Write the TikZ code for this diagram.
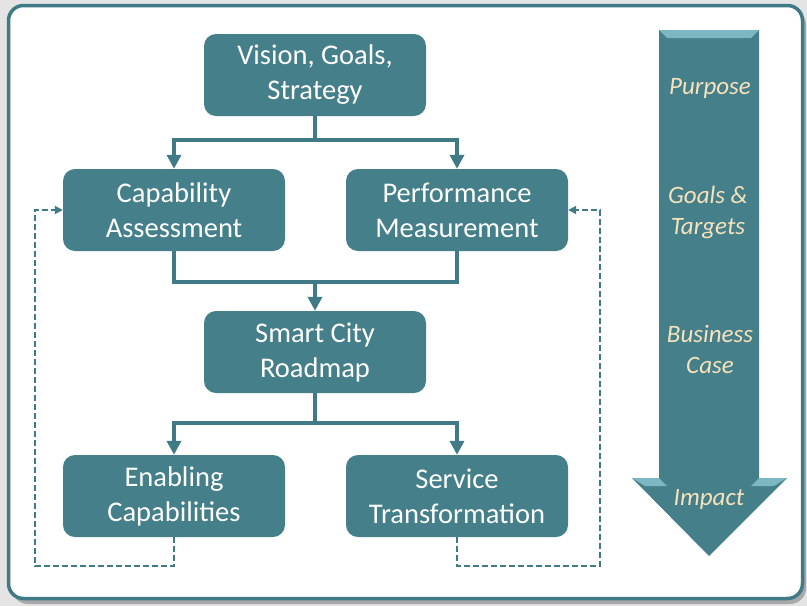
\documentclass[tikz,border=0pt]{standalone}
\usepackage{fontspec}
\setmainfont{Carlito}
\usetikzlibrary{arrows.meta}
\definecolor{tealfill}{HTML}{447F8A}
\definecolor{tealline}{HTML}{3F7A86}
\definecolor{teallight}{HTML}{7DB8C2}
\definecolor{cream}{HTML}{F8E2BC}
\definecolor{bggray}{HTML}{E4E4E4}
\definecolor{shadowgray}{HTML}{A8A8A8}
\begin{document}
\begin{tikzpicture}[x=1pt,y=-1pt,
  boxnode/.style={fill=tealfill, rounded corners=12pt, minimum width=222pt, minimum height=82pt,
    inner sep=0pt, text=white, align=center, font=\fontsize{28.5}{35}\selectfont},
  flow/.style={draw=tealline, line width=4pt},
  flowarr/.style={flow, -{Triangle[length=14pt,width=14pt]}},
  backloop/.style={draw=tealline, line width=1.8pt, dash pattern=on 6pt off 3pt,
    -{Triangle[length=8pt,width=8pt]}},
  arrowtext/.style={text=cream, align=center, font=\fontsize{25}{31}\selectfont\itshape}]
\useasboundingbox (0,0) rectangle (807,606);
\fill[bggray] (0,0) rectangle (807,606);
% frame
\fill[shadowgray, rounded corners=16pt] (12,9) rectangle (806,604);
\draw[tealline, line width=3.5pt, fill=white, rounded corners=15pt] (8.5,5.5) rectangle (802.5,598.5);

% boxes
\node[boxnode] (vis) at (315,75) {Vision, Goals,\\Strategy};
\node[boxnode] (cap) at (174,210) {Capability\\Assessment};
\node[boxnode] (perf) at (457,210) {Performance\\Measurement};
\node[boxnode] (road) at (315,352) {Smart City\\Roadmap};
\node[boxnode] (enab) at (174,496) {Enabling\\Capabilities};
\node[boxnode] (serv) at (457,496) {Service\\Transformation};

% connectors
\coordinate (j1) at (315,140);
\coordinate (j2) at (315,282);
\coordinate (j3) at (315,423);
\draw[flow] (vis.south) -- (j1);
\draw[flowarr] (j1) -| (cap.north);
\draw[flowarr] (j1) -| (perf.north);
\draw[flow] (cap.south) |- (j2);
\draw[flow] (perf.south) |- (j2);
\draw[flowarr] (j2) -- (road.north);
\draw[flow] (road.south) -- (j3);
\draw[flowarr] (j3) -| (enab.north);
\draw[flowarr] (j3) -| (serv.north);

% feedback loops
\coordinate (dl) at (35,566);
\coordinate (dr) at (600,566);
\draw[backloop] (enab.south) |- (dl) |- (cap.west);
\draw[backloop] (serv.south) |- (dr) |- (perf.east);

% big arrow
\fill[tealfill] (659,30) -- (759,30) -- (759,478) -- (787,478) -- (709,556) -- (632,478) -- (659,478) -- cycle;
\fill[teallight] (659,30) -- (759,30) -- (751,38) -- (667,38) -- cycle;
\fill[teallight] (632,478) -- (659,478) -- (667,486) -- (645,486) -- cycle;
\fill[teallight] (787,478) -- (759,478) -- (751,486) -- (774,486) -- cycle;
\node[arrowtext] (t1) at (710,88) {Purpose};
\node[arrowtext] (t2) at (708,212) {Goals \&\\Targets};
\node[arrowtext] (t3) at (710,349) {Business\\Case};
\node[arrowtext] (t4) at (709,499) {Impact};
\end{tikzpicture}
\end{document}
